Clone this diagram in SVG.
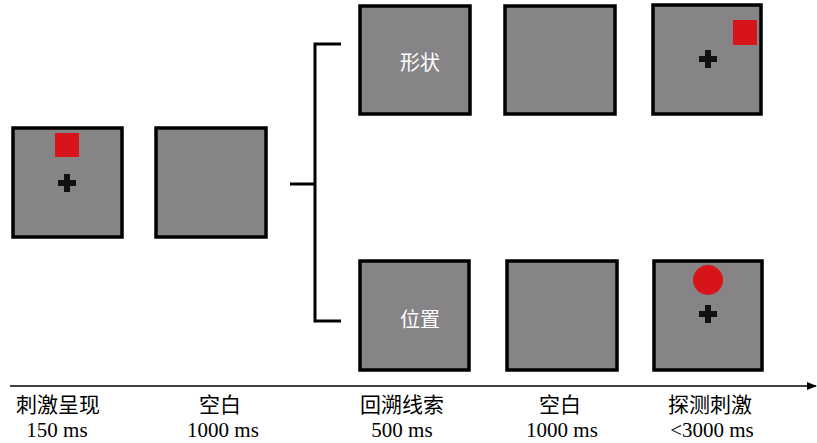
<svg xmlns="http://www.w3.org/2000/svg" width="817" height="443" viewBox="0 0 817 443">
<style>
.scr{fill:#868486;stroke:#000;stroke-width:3.5}
.cross{fill:#111}
.red{fill:#d7141a}
.lbl{font-family:"Liberation Serif","Noto Sans CJK SC",serif;font-size:21px;fill:#000;text-anchor:middle}
.in{font-family:"Liberation Serif","Noto Sans CJK SC",serif;font-size:20px;fill:#fff;text-anchor:middle}
.ln{fill:none;stroke:#000;stroke-width:3}
</style>
<defs>
<path id="plus" d="M-9,-3H-3V-9H3V-3H9V3H3V9H-3V3H-9Z"/>
<marker id="arr" markerWidth="10" markerHeight="10" refX="9" refY="5" orient="auto" markerUnits="userSpaceOnUse">
<path d="M0,1L10,5L0,9Z" fill="#000"/>
</marker>
</defs>
<g id="s1"><rect class="scr" x="13" y="128" width="109" height="109"/><rect class="red" x="55" y="133" width="24" height="24"/><use href="#plus" class="cross" x="67" y="183"/></g>
<g id="s2"><rect class="scr" x="156" y="128" width="110" height="109"/></g>
<g id="s3"><rect class="scr" x="360" y="6" width="110" height="108"/><text class="in" x="420" y="70">形状</text></g>
<g id="s4"><rect class="scr" x="505" y="6" width="110" height="108"/></g>
<g id="s5"><rect class="scr" x="653" y="5" width="108" height="109"/><rect class="red" x="733" y="20" width="24" height="25"/><use href="#plus" class="cross" x="708" y="59"/></g>
<g id="s6"><rect class="scr" x="360" y="261" width="109" height="109"/><text class="in" x="420" y="327">位置</text></g>
<g id="s7"><rect class="scr" x="507" y="261" width="110" height="109"/></g>
<g id="s8"><rect class="scr" x="654" y="261" width="108" height="109"/><circle class="red" cx="708" cy="280" r="15"/><use href="#plus" class="cross" x="708" y="314"/></g>
<g id="connectors">
<path class="ln" d="M341,44H315V321H341M290,184H315"/>
<line x1="10" y1="386" x2="816" y2="386" stroke="#000" stroke-width="1.5" marker-end="url(#arr)"/>
</g>
<g id="labels">
<text class="lbl" x="58" y="412">刺激呈现</text><text class="lbl" x="57" y="437">150 ms</text>
<text class="lbl" x="220" y="412">空白</text><text class="lbl" x="223" y="437">1000 ms</text>
<text class="lbl" x="402" y="412">回溯线索</text><text class="lbl" x="402" y="437">500 ms</text>
<text class="lbl" x="560" y="412">空白</text><text class="lbl" x="562" y="437">1000 ms</text>
<text class="lbl" x="710" y="412">探测刺激</text><text class="lbl" x="712" y="437">&lt;3000 ms</text>
</g>
</svg>
